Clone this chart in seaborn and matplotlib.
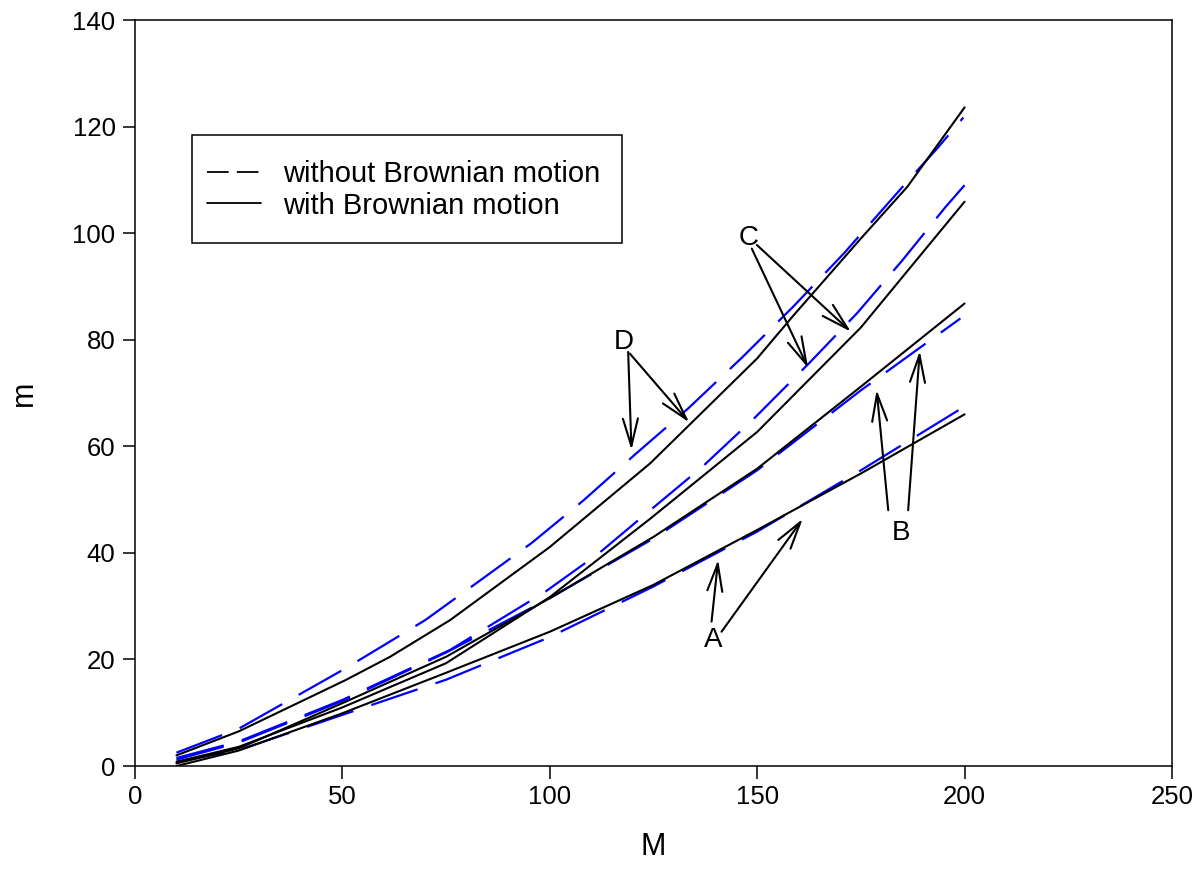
import numpy as np
import pandas as pd
import seaborn as sns
import matplotlib.pyplot as plt
from matplotlib.lines import Line2D
from matplotlib.patches import Rectangle

# with Brownian motion (solid black)
M_A = [10, 25, 50, 75, 100, 125, 150, 175, 200]
A_with = [0.0, 2.9, 9.9, 17.5, 25.2, 34.0, 44.3, 54.9, 66.0]
M_B = [10, 25, 50, 75, 100, 125, 150, 175, 200]
B_with = [0.5, 3.3, 11.8, 20.5, 31.5, 43.0, 55.8, 71.2, 86.8]
M_C = [10, 25, 50, 75, 100, 124.2, 150, 175, 200]
C_with = [0.8, 3.6, 11.0, 19.3, 31.7, 46.4, 62.7, 82.3, 105.9]
M_D = [10, 25, 50.7, 61.5, 76, 100, 124.2, 133.9, 150, 158.8, 175, 186.2, 200]
D_with = [2.0, 6.5, 16.1, 20.5, 27.4, 41.1, 56.8, 64.2, 76.5, 84.6, 99.0, 108.7, 123.6]

# without Brownian motion (dashed blue)
Mw_A = [10, 25, 50, 75, 100, 125, 150, 175, 199]
A_without = [0.8, 3.0, 9.6, 16.2, 24.2, 33.7, 44.0, 55.5, 67.0]
Mw_B = [10, 25, 50, 75, 100, 125, 150, 175, 199]
B_without = [1.2, 4.4, 12.2, 21.3, 31.5, 42.7, 55.5, 70.5, 84.0]
Mw_C = [10, 25, 50, 76, 98.9, 111.8, 124.2, 136.7, 149.6, 162.4, 174.1, 185, 195.4, 200]
C_without = [1.5, 4.6, 12.4, 21.8, 32.7, 39.9, 48.0, 56.1, 65.5, 75.5, 85.0, 94.9, 104.9, 109.0]
Mw_D = [10, 25, 50.7, 60.7, 70, 82.8, 95.7, 108.2, 120.6, 133.5, 146.4, 158.8, 170.9, 185.4, 193.4, 199.7]
D_without = [2.5, 7.0, 18.3, 23.0, 27.4, 34.6, 41.9, 49.9, 58.5, 67.2, 76.7, 86.3, 96.2, 109.0, 115.9, 121.7]

# annotation labels: label pos, [(start, tip), ...]
labels = {
    "D": ((117.9, 79.6), [((118.9, 77.7), (119.7, 59.3)), ((119.3, 77.4), (133.6, 64.5))]),
    "C": ((147.9, 99.0), [((148.7, 97.1), (162.3, 74.7)), ((149.9, 97.8), (172.6, 81.5))]),
    "B": ((184.7, 43.7), [((181.6, 48.0), (178.8, 70.6)), ((186.4, 48.0), (189.2, 77.9))]),
    "A": ((139.4, 23.6), [((139.0, 27.1), (140.6, 38.7)), ((141.4, 25.2), (161.0, 46.4))]),
}

sns.set_style("ticks")
plt.rcParams['font.family'] = ['Liberation Sans', 'DejaVu Sans']
plt.rcParams['text.color'] = 'black'
plt.rcParams['axes.labelcolor'] = 'black'

fig = plt.figure(figsize=(12.03, 8.90), dpi=100)
ax = fig.add_axes([0.1122, 0.1393, 0.862, 0.8382])

dash = (0, (22, 8.5))
for xs, ys in [(Mw_A, A_without), (Mw_B, B_without), (Mw_C, C_without), (Mw_D, D_without)]:
    sns.lineplot(x=xs, y=ys, ax=ax, color="#0000ff", linewidth=1.6,
                 linestyle=dash, sort=False)
for xs, ys in [(M_A, A_with), (M_B, B_with), (M_C, C_with), (M_D, D_with)]:
    sns.lineplot(x=xs, y=ys, ax=ax, color="black", linewidth=1.5, sort=False)

for name, (pos, arrows) in labels.items():
    ax.text(pos[0], pos[1], name, fontsize=20, ha="center", va="center")
    for start, tip in arrows:
        ax.annotate("", xy=tip, xytext=start,
                    arrowprops=dict(arrowstyle="->, head_length=1.1, head_width=0.3",
                                    color="black", lw=1.5, shrinkA=0, shrinkB=0,
                                    mutation_scale=18))

ax.set_xlim(0, 250)
ax.set_ylim(0, 140)
ax.set_xticks([0, 50, 100, 150, 200, 250])
ax.set_yticks([0, 20, 40, 60, 80, 100, 120, 140])
ax.tick_params(direction="out", length=9, width=1.1, labelsize=18.5, colors="black", pad=5)
for s in ax.spines.values():
    s.set_visible(True)
    s.set_color("black")
    s.set_linewidth(1.1)
ax.set_xlabel("M", fontsize=22, labelpad=16)
ax.set_ylabel("m", fontsize=22, labelpad=24)

# legend box drawn separately, entries placed inside it
ax.add_patch(Rectangle((0.055, 0.7011), 0.4147, 0.1448, transform=ax.transAxes,
                       fill=True, facecolor="white", edgecolor="black", lw=1.1, zorder=4))
handles = [Line2D([], [], color="black", lw=1.3, linestyle=(0, (12, 4.5))),
           Line2D([], [], color="black", lw=1.3)]
leg = ax.legend(handles, ["without Brownian motion", "with Brownian motion"],
                loc="upper left", bbox_to_anchor=(0.0694, 0.8125), borderaxespad=0,
                fontsize=21, frameon=False, handlelength=1.85,
                handletextpad=0.75, borderpad=0, labelspacing=0.13)
leg.set_zorder(5)

plt.savefig("out.png", dpi=100)
plt.close()
